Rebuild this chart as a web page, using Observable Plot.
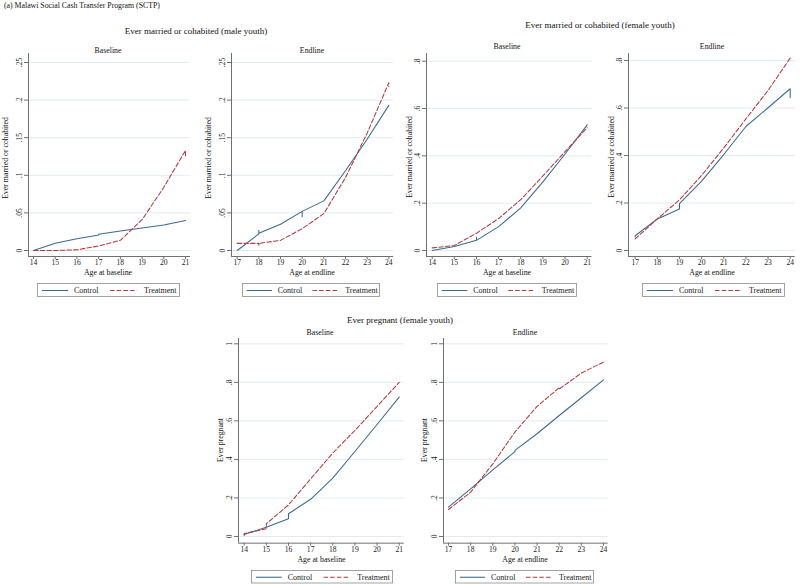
<!DOCTYPE html>
<html>
<head>
<meta charset="utf-8">
<script src="https://cdn.jsdelivr.net/npm/d3@7"></script>
<script src="https://cdn.jsdelivr.net/npm/@observablehq/plot@0.6"></script>
<style>
  html, body { margin: 0; padding: 0; background: #fff; }
  #root { position: relative; width: 800px; height: 585px; overflow: hidden; font-family: "Liberation Serif", "DejaVu Serif", serif; color: #111; }
  .t { position: absolute; white-space: nowrap; transform: translate(-50%, -50%); line-height: 1; }
  .yl { position: absolute; white-space: nowrap; transform: translate(-50%, -50%) rotate(-90deg); line-height: 1; }
  svg { overflow: visible; }
</style>
</head>
<body>
<div id="root"></div>
<script>
// ---------------- DATA ----------------
const seriesNames = ["Control", "Treatment"];

// Ever married or cohabited (male youth) - Baseline
const mbCtrlAge = [14, 15, 16, 17, 17, 18, 19, 20, 21];
const mbCtrl    = [0, 0.0095, 0.0155, 0.0205, 0.0215, 0.026, 0.030, 0.034, 0.040];
const mbTreatAge = [14, 15, 16, 17, 18, 19, 20, 21, 21];
const mbTreat    = [0, 0, 0.001, 0.006, 0.0135, 0.041, 0.084, 0.133, 0.126];

// Ever married or cohabited (male youth) - Endline
const meCtrlAge = [17, 18, 18, 18, 19, 20, 20, 20, 21, 22, 23, 24];
const meCtrl    = [0, 0.022, 0.027, 0.023, 0.035, 0.052, 0.045, 0.052, 0.066, 0.106, 0.148, 0.193];
const meTreatAge = [17, 18, 18, 18, 19, 20, 21, 22, 23, 24, 24];
const meTreat    = [0.0095, 0.0095, 0.007, 0.0095, 0.0135, 0.029, 0.049, 0.097, 0.156, 0.223, 0.218];

// Ever married or cohabited (female youth) - Baseline
const fbCtrlAge = [14, 15, 16, 16, 16, 17, 18, 19, 20, 21];
const fbCtrl    = [0, 0.017, 0.043, 0.056, 0.043, 0.101, 0.18, 0.29, 0.408, 0.531];
const fbTreatAge = [14, 15, 16, 17, 18, 19, 20, 21];
const fbTreat    = [0.011, 0.021, 0.073, 0.135, 0.215, 0.315, 0.418, 0.519];

// Ever married or cohabited (female youth) - Endline
const feCtrlAge = [17, 17, 17, 18, 19, 19, 20, 21, 22, 23, 24, 24];
const feCtrl    = [0.062, 0.057, 0.062, 0.133, 0.175, 0.197, 0.292, 0.404, 0.522, 0.601, 0.681, 0.643];
const feTreatAge = [17, 18, 19, 20, 21, 22, 23, 24];
const feTreat    = [0.049, 0.133, 0.213, 0.316, 0.432, 0.554, 0.674, 0.81];

// Ever pregnant (female youth) - Baseline
const pbCtrlAge = [14, 15, 16, 16, 17, 18, 19, 20, 21];
const pbCtrl    = [0.01, 0.048, 0.092, 0.118, 0.193, 0.303, 0.441, 0.581, 0.723];
const pbTreatAge = [14, 14, 15, 15, 16, 17, 18, 19, 20, 21];
const pbTreat    = [0.005, 0.015, 0.04, 0.066, 0.164, 0.299, 0.433, 0.55, 0.675, 0.80];

// Ever pregnant (female youth) - Endline
const peCtrlAge = [17, 18, 19, 20, 20, 21, 22, 23, 24];
const peCtrl    = [0.152, 0.247, 0.346, 0.44, 0.447, 0.533, 0.628, 0.72, 0.813];
const peTreatAge = [17, 18, 19, 20, 21, 22, 22, 23, 24, 24];
const peTreat    = [0.14, 0.23, 0.377, 0.542, 0.675, 0.772, 0.765, 0.848, 0.905, 0.913];

// Ticks
const baselineAges = [14, 15, 16, 17, 18, 19, 20, 21];
const endlineAges  = [17, 18, 19, 20, 21, 22, 23, 24];
const maleTicks    = [0, 0.05, 0.1, 0.15, 0.2, 0.25];
const femaleTicks  = [0, 0.2, 0.4, 0.6, 0.8];
const pregTicks    = [0, 0.2, 0.4, 0.6, 0.8, 1];

// Texts
const mainTitle = "(a) Malawi Social Cash Transfer Program (SCTP)";
const groupMale = "Ever married or cohabited (male youth)";
const groupFemale = "Ever married or cohabited (female youth)";
const groupPreg = "Ever pregnant (female youth)";
const yMarried = "Ever married or cohabited";
const yPreg = "Ever pregnant";
const xBase = "Age at baseline";
const xEnd = "Age at endline";

// ---------------- STYLE ----------------
const FONT = "Liberation Serif";
const CTRL = "#3b6893";
const TREAT = "#b3393e";
const AXIS = "#707070";
const GRID = "#e2ebf0";
const DASH = "4.5,2.2";

const root = document.getElementById("root");

function stataFmt(d) {
  if (d === 0) return "0";
  if (d === 1) return "1";
  return String(+d.toFixed(3)).replace(/^0/, "");
}

function addText(txt, x, y, size, cls = "t") {
  const el = document.createElement("div");
  el.className = cls;
  el.textContent = txt;
  el.style.left = x + "px";
  el.style.top = y + "px";
  el.style.fontSize = size + "px";
  root.appendChild(el);
}

function zip(ages, vals) { return ages.map((a, i) => ({age: a, v: vals[i]})); }

function panel(L) {
  const kx = (L.x1px - L.x0px) / (L.xt[1] - L.xt[0]);
  const xd = [L.xt[0] - (L.x0px - L.left) / kx, L.xt[1] + (L.right - L.x1px) / kx];
  const ky = (L.y0px - L.y1px) / (L.yt[1] - L.yt[0]);
  const yd = [L.yt[0] - (L.bottom - L.y0px) / ky, L.yt[1] + (L.y1px - L.top) / ky];
  const mL = 30, mR = 4, mT = 4, mB = 14;
  const ctrl = zip(L.ctrlAge, L.ctrl);
  const treat = zip(L.treatAge, L.treat);
  const plot = Plot.plot({
    width: L.right - L.left + mL + mR,
    height: L.bottom - L.top + mT + mB,
    marginLeft: mL, marginRight: mR, marginTop: mT, marginBottom: mB,
    x: {domain: xd},
    y: {domain: yd},
    style: {fontFamily: FONT, fontSize: "7.6px", background: "transparent", color: "#1a1a1a", overflow: "visible"},
    marks: [
      Plot.gridY(L.yTicks, {stroke: GRID, strokeOpacity: 1}),
      Plot.ruleX([xd[0]], {y1: yd[0], y2: yd[1], stroke: AXIS}),
      Plot.ruleY([yd[0]], {x1: xd[0], x2: xd[1], stroke: AXIS}),
      Plot.axisX(L.xTicks, {tickSize: 3, tickPadding: 0, label: null, stroke: AXIS, tickFormat: d => String(d)}),
      Plot.axisY(L.yTicks, {tickSize: 4, tickFormat: () => "", label: null, stroke: AXIS}),
      Plot.text(L.yTicks, {x: () => xd[0], y: d => d, text: d => stataFmt(d), rotate: -90, dx: -8.5, textAnchor: "middle", fill: "#1a1a1a"}),
      Plot.line(ctrl, {x: "age", y: "v", stroke: CTRL, strokeWidth: 1.05}),
      Plot.line(treat, {x: "age", y: "v", stroke: TREAT, strokeWidth: 1.05, strokeDasharray: DASH})
    ]
  });
  plot.style.position = "absolute";
  plot.style.left = (L.left - mL) + "px";
  plot.style.top = (L.top - mT) + "px";
  root.appendChild(plot);

  // titles & labels
  addText(L.title, L.titleX, L.titleY, 7.8);
  addText(L.xLabel, L.xLabelX, L.xLabelY, 7.8);
  addText(L.yLabel, L.yLabelX, L.yLabelY, 7.8, "yl");

  // legend
  const [lx0, lx1] = L.legX, [ly0, ly1] = L.legY;
  const w = lx1 - lx0, h = ly1 - ly0;
  const s = w / 143;
  const svg = d3.create("svg")
    .attr("width", w).attr("height", h)
    .style("position", "absolute").style("left", lx0 + "px").style("top", ly0 + "px")
    .style("font-family", FONT).style("font-size", "8px");
  svg.append("rect").attr("x", 0.5).attr("y", 0.5).attr("width", w - 1).attr("height", h - 1)
    .attr("fill", "white").attr("stroke", "#8c8c8c").attr("stroke-width", 0.8);
  const my = h / 2 + 0.5;
  svg.append("line").attr("x1", 5 * s).attr("x2", 31 * s).attr("y1", my).attr("y2", my)
    .attr("stroke", CTRL).attr("stroke-width", 1.05);
  svg.append("text").attr("x", 37 * s).attr("y", my).attr("dy", "0.34em").attr("fill", "#1a1a1a").text(seriesNames[0]);
  svg.append("line").attr("x1", 73 * s).attr("x2", 100 * s).attr("y1", my).attr("y2", my)
    .attr("stroke", TREAT).attr("stroke-width", 1.05).attr("stroke-dasharray", DASH);
  svg.append("text").attr("x", 107 * s).attr("y", my).attr("dy", "0.34em").attr("fill", "#1a1a1a").text(seriesNames[1]);
  root.appendChild(svg.node());
}

// ---------------- LAYOUT ----------------
addText(mainTitle, 0, 6, 7.8, "t");
root.lastChild.style.transform = "translate(0, -50%)";
root.lastChild.style.left = "4px";
addText(groupMale, 196, 31, 9);
addText(groupFemale, 600, 25, 9);
addText(groupPreg, 400, 320, 9);

panel({
  left: 28, right: 190, top: 53, bottom: 256,
  x0px: 33, x1px: 185, xt: [14, 21], y0px: 250, y1px: 62, yt: [0, 0.25],
  xTicks: baselineAges, yTicks: maleTicks,
  ctrlAge: mbCtrlAge, ctrl: mbCtrl, treatAge: mbTreatAge, treat: mbTreat,
  title: "Baseline", titleX: 108, titleY: 51,
  xLabel: xBase, xLabelX: 108, xLabelY: 273,
  yLabel: yMarried, yLabelX: 6, yLabelY: 158,
  legX: [37, 180], legY: [282.5, 296.5]
});
panel({
  left: 231, right: 393, top: 53, bottom: 256,
  x0px: 236.7, x1px: 388.3, xt: [17, 24], y0px: 250, y1px: 62, yt: [0, 0.25],
  xTicks: endlineAges, yTicks: maleTicks,
  ctrlAge: meCtrlAge, ctrl: meCtrl, treatAge: meTreatAge, treat: meTreat,
  title: "Endline", titleX: 312, titleY: 51,
  xLabel: xEnd, xLabelX: 312, xLabelY: 273,
  yLabel: yMarried, yLabelX: 209, yLabelY: 158,
  legX: [242, 380], legY: [282.5, 296.5]
});
panel({
  left: 426, right: 591.5, top: 53, bottom: 256,
  x0px: 431.7, x1px: 586.7, xt: [14, 21], y0px: 250, y1px: 60.7, yt: [0, 0.8],
  xTicks: baselineAges, yTicks: femaleTicks,
  ctrlAge: fbCtrlAge, ctrl: fbCtrl, treatAge: fbTreatAge, treat: fbTreat,
  title: "Baseline", titleX: 507, titleY: 46.5,
  xLabel: xBase, xLabelX: 507, xLabelY: 273,
  yLabel: yMarried, yLabelX: 410, yLabelY: 157,
  legX: [437, 577], legY: [282.5, 296.5]
});
panel({
  left: 628.3, right: 795, top: 53, bottom: 256,
  x0px: 635, x1px: 790, xt: [17, 24], y0px: 250, y1px: 60, yt: [0, 0.8],
  xTicks: endlineAges, yTicks: femaleTicks,
  ctrlAge: feCtrlAge, ctrl: feCtrl, treatAge: feTreatAge, treat: feTreat,
  title: "Endline", titleX: 712, titleY: 46.5,
  xLabel: xEnd, xLabelX: 712, xLabelY: 273,
  yLabel: yMarried, yLabelX: 612, yLabelY: 157,
  legX: [642, 785], legY: [282.5, 296.5]
});
panel({
  left: 238.3, right: 404, top: 338, bottom: 542.7,
  x0px: 244, x1px: 399, xt: [14, 21], y0px: 536, y1px: 343.3, yt: [0, 1],
  xTicks: baselineAges, yTicks: pregTicks,
  ctrlAge: pbCtrlAge, ctrl: pbCtrl, treatAge: pbTreatAge, treat: pbTreat,
  title: "Baseline", titleX: 320, titleY: 332.5,
  xLabel: xBase, xLabelX: 321.5, xLabelY: 560,
  yLabel: yPreg, yLabelX: 221, yLabelY: 440,
  legX: [251, 393], legY: [569.5, 583]
});
panel({
  left: 443.3, right: 608, top: 338, bottom: 542.7,
  x0px: 448.3, x1px: 603.3, xt: [17, 24], y0px: 536, y1px: 343.3, yt: [0, 1],
  xTicks: endlineAges, yTicks: pregTicks,
  ctrlAge: peCtrlAge, ctrl: peCtrl, treatAge: peTreatAge, treat: peTreat,
  title: "Endline", titleX: 525, titleY: 332.5,
  xLabel: xEnd, xLabelX: 525, xLabelY: 560,
  yLabel: yPreg, yLabelX: 425, yLabelY: 440,
  legX: [455, 594], legY: [569.5, 583]
});
</script>
</body>
</html>
